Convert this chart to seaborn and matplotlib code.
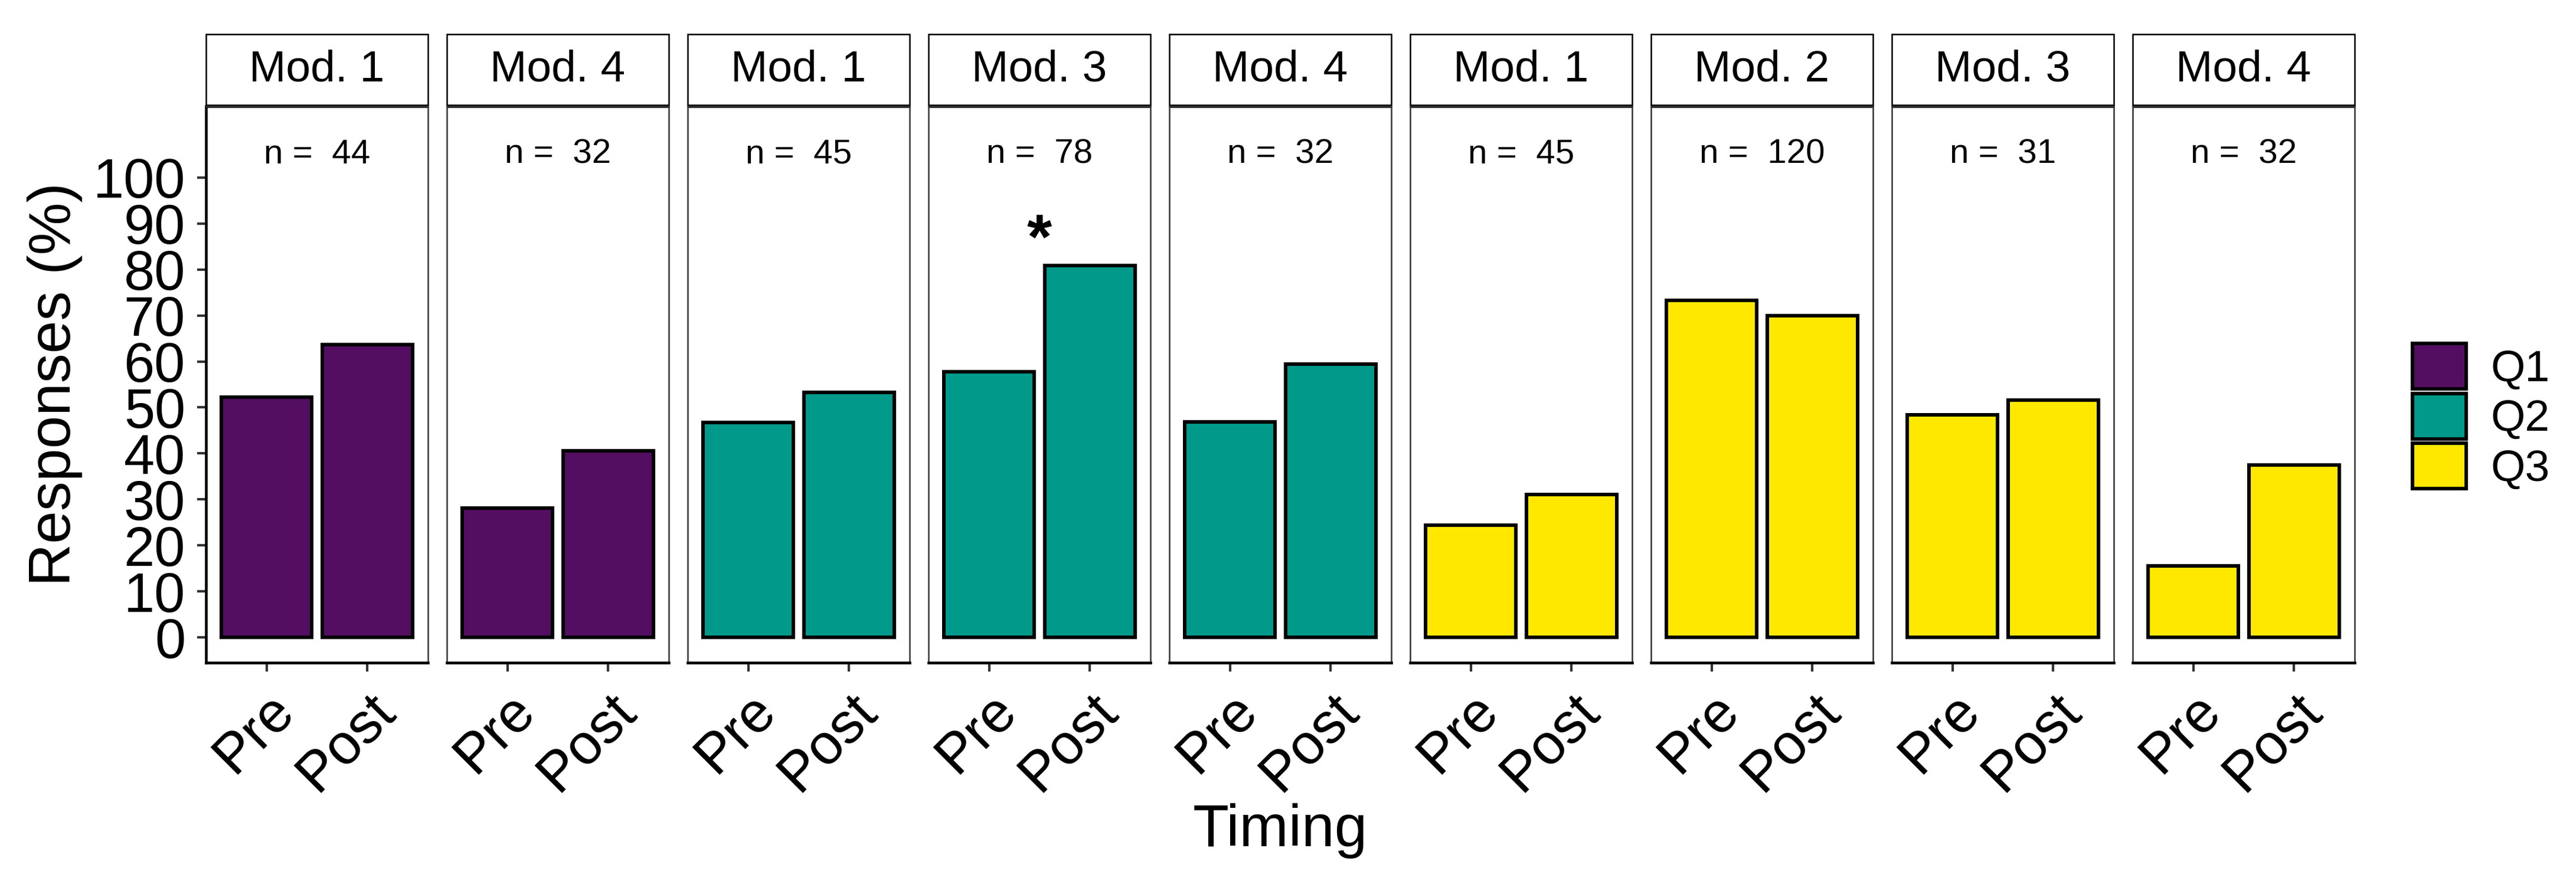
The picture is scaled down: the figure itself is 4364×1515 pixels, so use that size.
#!/usr/bin/env python3
import matplotlib
matplotlib.use('Agg')
import matplotlib.pyplot as plt
from matplotlib.patches import Rectangle, Patch
import numpy as np
import pandas as pd
import seaborn as sns

# one panel per question/module combination
questions = ['Q1', 'Q1', 'Q2', 'Q2', 'Q2', 'Q3', 'Q3', 'Q3', 'Q3']
modules = ['Mod. 1', 'Mod. 4', 'Mod. 1', 'Mod. 3', 'Mod. 4',
           'Mod. 1', 'Mod. 2', 'Mod. 3', 'Mod. 4']
n_resp = [44, 32, 45, 78, 32, 45, 120, 31, 32]
pre = [52.3, 28.1, 46.7, 57.7, 46.9, 24.4, 73.3, 48.4, 15.6]
post = [63.6, 40.6, 53.3, 80.8, 59.4, 31.1, 70.0, 51.6, 37.5]
signif = ['', '', '', '*', '', '', '', '', '']
timing = ['Pre', 'Post']
q_order = ['Q1', 'Q2', 'Q3']
q_colors = ['#530E61', '#00998A', '#FFE800']

rows = []
for i in range(len(questions)):
    rows.append({'Panel': i, 'Question': questions[i], 'Timing': 'Pre', 'Responses': pre[i]})
    rows.append({'Panel': i, 'Question': questions[i], 'Timing': 'Post', 'Responses': post[i]})
df = pd.DataFrame(rows)

sns.set_style('white')
plt.rcParams['font.family'] = ['Liberation Sans', 'DejaVu Sans']
plt.rcParams['text.color'] = 'black'
plt.rcParams['axes.labelcolor'] = 'black'
plt.rcParams['xtick.color'] = 'black'
plt.rcParams['ytick.color'] = 'black'

W, H = 4364, 1515
fig = plt.figure(figsize=(W / 300, H / 300), dpi=300)

# panel layout in pixels
p_left, p_w, p_gap = 349, 376, 32
p_top, p_bot = 180, 1123
strip_h = 120
edge = '#333333'

palette = dict(zip(q_order, q_colors))

for i in range(len(questions)):
    x0 = p_left + i * (p_w + p_gap)
    ax = fig.add_axes([x0 / W, 1 - p_bot / H, p_w / W, (p_bot - p_top) / H])
    sub = df[df['Panel'] == i]
    sns.barplot(data=sub, x='Timing', y='Responses', hue='Question',
                hue_order=q_order, palette=palette, order=timing,
                dodge=False, width=0.9, edgecolor='black', linewidth=1.45,
                saturation=1, errorbar=None, legend=False, ax=ax)
    ax.set(xlabel='', ylabel='')
    ax.set_xlim(-0.6, 1.6)
    ax.set_ylim(-5.5, 115.5)
    ax.set_facecolor('white')

    for side in ['top', 'right', 'left']:
        ax.spines[side].set_color(edge)
        ax.spines[side].set_linewidth(0.6)
    ax.spines['bottom'].set_color('black')
    ax.spines['bottom'].set_linewidth(1.1)

    ax.set_xticks([0, 1])
    ax.set_xticklabels(timing, rotation=45, ha='right', va='top',
                       rotation_mode='anchor', fontsize=23)
    ax.tick_params(axis='x', bottom=True, length=3.6, width=1.0,
                   color=edge, labelcolor='black', pad=5)

    ax.set_yticks(np.arange(0, 101, 10))
    if i == 0:
        ax.spines['left'].set_color('black')
        ax.spines['left'].set_linewidth(1.1)
        ax.tick_params(axis='y', left=True, length=3.6, width=1.0,
                       color=edge, labelcolor='black', pad=4.8, labelsize=22.5)
    else:
        ax.tick_params(axis='y', left=False, labelleft=False)

    # strip box with module name
    sh = strip_h / (p_bot - p_top)
    ax.add_patch(Rectangle((0, 1.0025), 1, sh, transform=ax.transAxes,
                           facecolor='white', edgecolor='black',
                           linewidth=0.6, clip_on=False))
    ax.plot([0, 1], [1.0, 1.0], transform=ax.transAxes, color='black',
            linewidth=1.1, clip_on=False, solid_capstyle='butt')
    ax.text(0.5, 1.0025 + sh / 2, modules[i], transform=ax.transAxes,
            ha='center', va='center', fontsize=18, color='black')

    ax.text(0.5, 105, f'n =  {n_resp[i]}', ha='center', va='center',
            fontsize=14, color='black')
    if signif[i]:
        ax.text(0.5, 86, signif[i], ha='center', va='center',
                fontsize=26, fontweight='bold', color='black')

fig.text(93 / W, 1 - 651 / H, 'Responses (%)', rotation=90,
         ha='center', va='center', fontsize=24, color='black')
fig.text(2169 / W, 1 - 1408 / H, 'Timing', ha='center', va='center',
         fontsize=24, color='black')

handles = [Patch(facecolor=c, edgecolor='black', linewidth=1.45) for c in q_colors]
fig.legend(handles, q_order, loc='center left',
           bbox_to_anchor=(4087 / W, 1 - 706 / H), frameon=False,
           fontsize=18, handlelength=1.21, handleheight=1.2,
           labelspacing=0.08, handletextpad=0.56, borderpad=0,
           borderaxespad=0)

fig.savefig('out.png', dpi=300, facecolor='white')
